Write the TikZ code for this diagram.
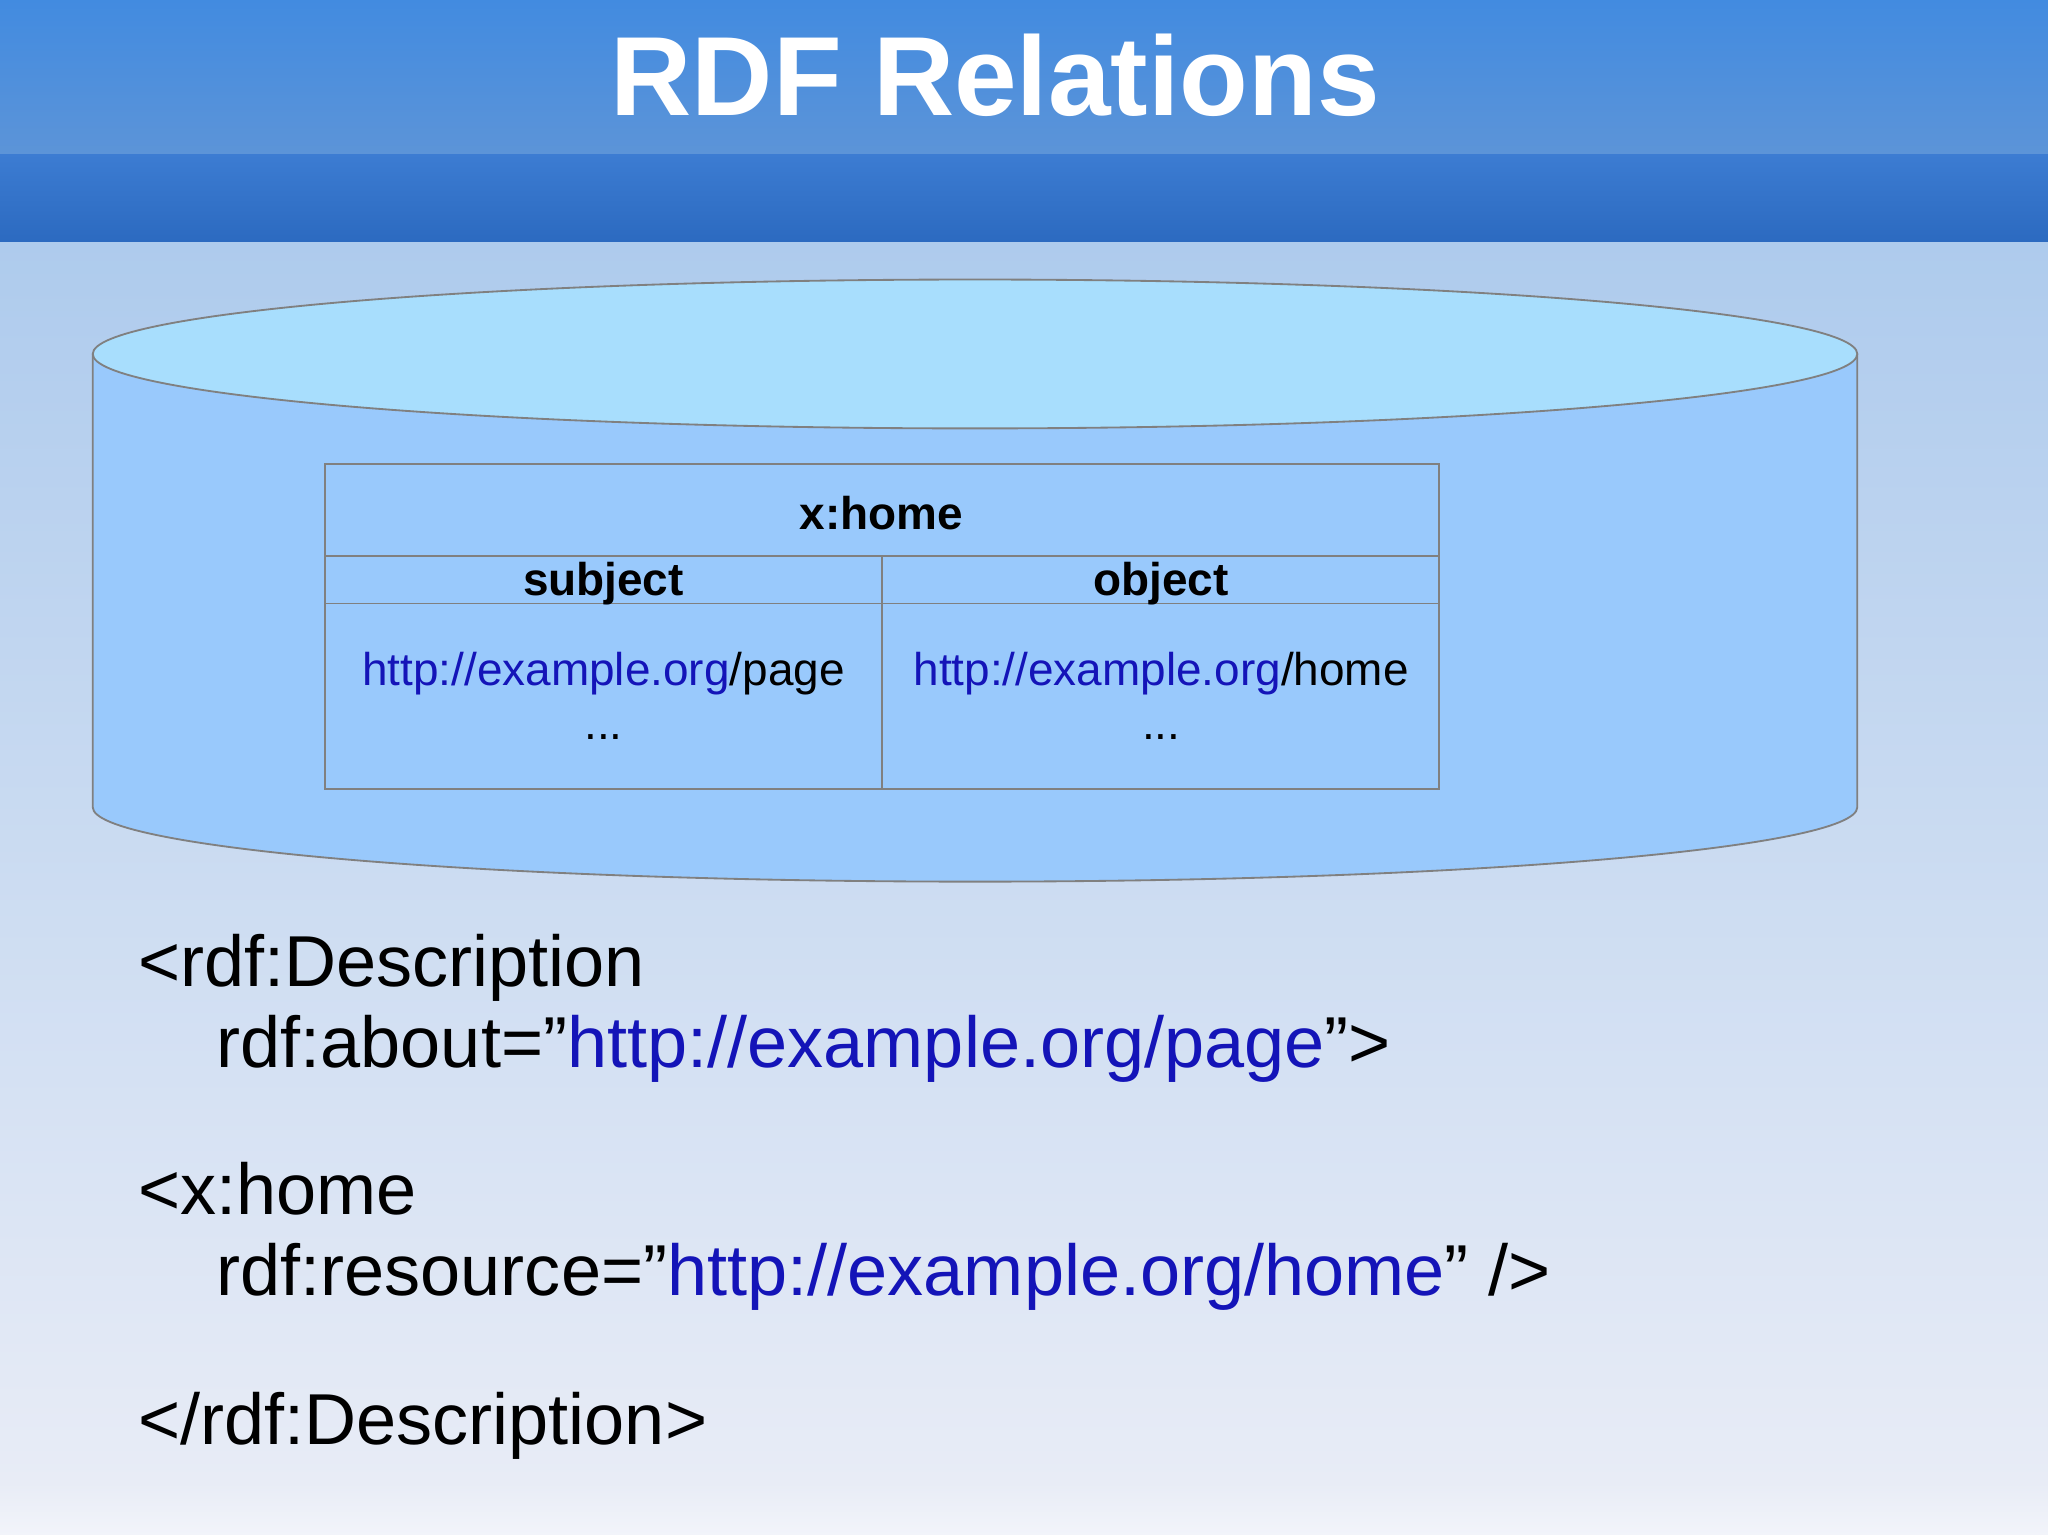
\documentclass[tikz,border=0pt]{standalone}
\usepackage{fontspec}
\setmainfont{Liberation Sans}
\definecolor{lnk}{HTML}{1414B8}
\definecolor{cyl}{HTML}{99C9FC}
\definecolor{cyltop}{HTML}{A8DEFD}
\tikzset{
 code/.style={anchor=base west,inner sep=0pt,font=\fontsize{15.7}{18}\selectfont},
 cell/.style={inner sep=0pt,font=\fontsize{10}{12}\selectfont},
 head/.style={inner sep=0pt,font=\fontsize{10}{12}\selectfont\bfseries},
 edge/.style={draw=black!50,line width=0.4pt}
}
\begin{document}
\begin{tikzpicture}[x=0.01cm,y=-0.01cm]
\useasboundingbox (0,0) rectangle (1568,1175);
% background
\shade[top color={rgb,255:red,174;green,203;blue,237},bottom color={rgb,255:red,232;green,236;blue,246}] (0,185) rectangle (1568,1135);
\shade[top color={rgb,255:red,232;green,236;blue,246},bottom color={rgb,255:red,242;green,244;blue,250}] (0,1135) rectangle (1568,1175);
\shade[top color={rgb,255:red,66;green,139;blue,224},bottom color={rgb,255:red,92;green,148;blue,216}] (0,0) rectangle (1568,118);
\shade[top color={rgb,255:red,60;green,124;blue,210},bottom color={rgb,255:red,44;green,106;blue,192}] (0,118) rectangle (1568,185);
\node[text=white,font=\fontsize{24.5}{28}\selectfont\bfseries,inner sep=0pt] (title) at (762,58) {RDF Relations};
% cylinder
\path[fill=cyl,edge] (71,271) -- (71,618) arc[start angle=180,end angle=0,x radius=675.5,y radius=57] -- (1422,271);
\path[fill=cyltop,edge] (746.5,271) ellipse[x radius=675.5,y radius=57];
% table
\draw[edge] (249,355) rectangle (1102,604);
\draw[edge] (249,426) -- (1102,426);
\draw[edge] (249,462) -- (1102,462);
\draw[edge] (675,426) -- (675,604);
\node[head] (rel) at (675,393) {x:home};
\node[head] (subj) at (462,447) {subject};
\node[head] (obj) at (889,447) {object};
\node[cell] (s1) at (462,516) {\textcolor{lnk}{http://example.org}/page};
\node[cell] (s2) at (462,564) {...};
\node[cell] (o1) at (889,516) {\textcolor{lnk}{http://example.org}/home};
\node[cell] (o2) at (889,564) {...};
% code
\node[code] (c1) at (105,755) {<rdf:Description};
\node[code] (c2) at (165,817) {rdf:about=”\textcolor{lnk}{http://example.org/page}”>};
\node[code] (c3) at (105,930) {<x:home};
\node[code] (c4) at (165,992) {rdf:resource=”\textcolor{lnk}{http://example.org/home}” />};
\node[code] (c5) at (105,1106) {</rdf:Description>};
\end{tikzpicture}
\end{document}
